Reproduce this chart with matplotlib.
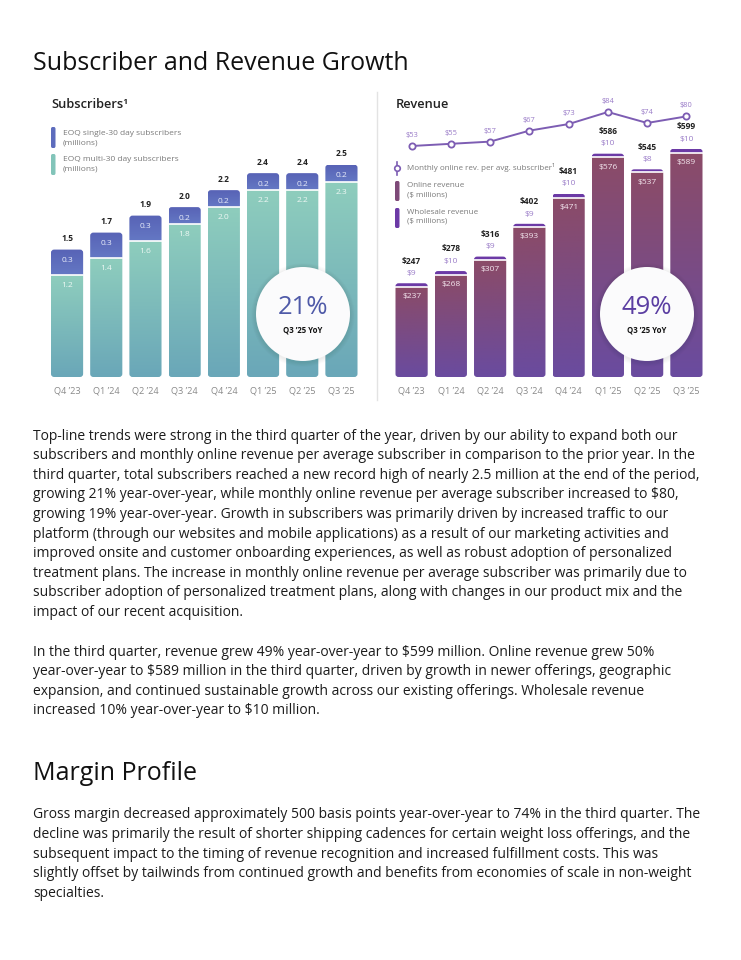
import numpy as np
import matplotlib
matplotlib.use('Agg')
import matplotlib.pyplot as plt
from matplotlib.colors import LinearSegmentedColormap
from matplotlib.patches import FancyBboxPatch, Circle

W, H = 741, 960

quarters = ["Q4 \u201923", "Q1 \u201924", "Q2 \u201924", "Q3 \u201924",
            "Q4 \u201924", "Q1 \u201925", "Q2 \u201925", "Q3 \u201925"]

# subscribers (millions)
single_subs = [0.3, 0.3, 0.3, 0.2, 0.2, 0.2, 0.2, 0.2]
multi_subs = [1.2, 1.4, 1.6, 1.8, 2.0, 2.2, 2.2, 2.3]
total_subs = [1.5, 1.7, 1.9, 2.0, 2.2, 2.4, 2.4, 2.5]

# revenue ($ millions)
online_rev = [237, 268, 307, 393, 471, 576, 537, 589]
wholesale_rev = [9, 10, 9, 9, 10, 10, 8, 10]
total_rev = [247, 278, 316, 402, 481, 586, 545, 599]
arpu = [53, 55, 57, 67, 73, 84, 74, 80]

para1 = [
    "Top-line trends were strong in the third quarter of the year, driven by our ability to expand both our",
    "subscribers and monthly online revenue per average subscriber in comparison to the prior year. In the",
    "third quarter, total subscribers reached a new record high of nearly 2.5 million at the end of the period,",
    "growing 21% year-over-year, while monthly online revenue per average subscriber increased to $80,",
    "growing 19% year-over-year. Growth in subscribers was primarily driven by increased traffic to our",
    "platform (through our websites and mobile applications) as a result of our marketing activities and",
    "improved onsite and customer onboarding experiences, as well as robust adoption of personalized",
    "treatment plans. The increase in monthly online revenue per average subscriber was primarily due to",
    "subscriber adoption of personalized treatment plans, along with changes in our product mix and the",
    "impact of our recent acquisition.",
]
para2 = [
    "In the third quarter, revenue grew 49% year-over-year to $599 million. Online revenue grew 50%",
    "year-over-year to $589 million in the third quarter, driven by growth in newer offerings, geographic",
    "expansion, and continued sustainable growth across our existing offerings. Wholesale revenue",
    "increased 10% year-over-year to $10 million.",
]
para3 = [
    "Gross margin decreased approximately 500 basis points year-over-year to 74% in the third quarter. The",
    "decline was primarily the result of shorter shipping cadences for certain weight loss offerings, and the",
    "subsequent impact to the timing of revenue recognition and increased fulfillment costs. This was",
    "slightly offset by tailwinds from continued growth and benefits from economies of scale in non-weight",
    "specialties.",
]

plt.rcParams['font.family'] = ['Open Sans', 'DejaVu Sans']

fig = plt.figure(figsize=(W / 100, H / 100), dpi=100)
fig.patch.set_facecolor('white')


def px(x, y):
    return x / W, 1 - y / H


def px_axes(l, t, r, b):
    return fig.add_axes([l / W, 1 - b / H, (r - l) / W, (b - t) / H])


def grad_fill(ax, rect, clip, c_top, c_bot):
    x, y = rect.get_x(), rect.get_y()
    w, h = rect.get_width(), rect.get_height()
    cmap = LinearSegmentedColormap.from_list('g', [c_bot, c_top])
    im = ax.imshow(np.linspace(0, 1, 64).reshape(-1, 1), cmap=cmap, origin='lower',
                   extent=[x, x + w, y, y + h], aspect='auto', zorder=2,
                   interpolation='bilinear')
    im.set_clip_path(clip)


def rounded(ax, x, w, top, rx, ry):
    p = FancyBboxPatch((x, 0), w, top, boxstyle="round,pad=0,rounding_size=%f" % rx,
                       mutation_aspect=ry / rx, facecolor='none', edgecolor='none',
                       transform=ax.transData)
    ax.add_patch(p)
    return p


def style_axes(ax):
    for s in ax.spines.values():
        s.set_visible(False)
    ax.set_yticks([])
    ax.set_xticks(range(len(quarters)))
    ax.set_xticklabels(quarters, fontsize=6.6, color='#8a8a8a')
    ax.tick_params(axis='x', length=0, pad=7)
    ax.set_facecolor('none')


x = np.arange(len(quarters))
bw = 0.82

# ---------------- subscribers ----------------
ax1 = px_axes(45.5, 95, 363, 377)
b_multi = ax1.bar(x, multi_subs, bw, color='none', edgecolor='none')
b_single = ax1.bar(x, single_subs, bw, bottom=multi_subs, color='none', edgecolor='none')
ax1.set_xlim(-0.55, 7.55)
ax1.set_ylim(0, 3.32)
for i in range(len(x)):
    clip = rounded(ax1, b_multi[i].get_x(), bw, multi_subs[i] + single_subs[i], 0.08, 0.036)
    grad_fill(ax1, b_multi[i], clip, '#8ecdbd', '#6aa7b8')
    grad_fill(ax1, b_single[i], clip, '#5863b6', '#6478c4')
    ax1.plot([b_multi[i].get_x(), b_multi[i].get_x() + bw], [multi_subs[i]] * 2,
             color='white', lw=1.2, zorder=3)
    ax1.annotate("%.1f" % total_subs[i], (x[i], multi_subs[i] + single_subs[i]),
                 xytext=(0, 8), textcoords='offset points', ha='center', va='center',
                 fontsize=6, fontweight='bold', color='#222222')
    ax1.annotate("%.1f" % single_subs[i], (x[i], multi_subs[i] + single_subs[i]),
                 xytext=(0, -8), textcoords='offset points', ha='center', va='center',
                 fontsize=6, color='#e8ecfa', zorder=4)
    ax1.annotate("%.1f" % multi_subs[i], (x[i], multi_subs[i]),
                 xytext=(0, -7.5), textcoords='offset points', ha='center', va='center',
                 fontsize=6, color='#eef8f4', zorder=4)
style_axes(ax1)

# ---------------- revenue ----------------
ax2 = px_axes(390, 95, 708, 377)
b_online = ax2.bar(x, online_rev, bw, color='none', edgecolor='none')
b_whole = ax2.bar(x, wholesale_rev, bw, bottom=online_rev, color='none', edgecolor='none')
ax2.set_xlim(-0.55, 7.55)
ax2.set_ylim(0, 740)
for i in range(len(x)):
    top = online_rev[i] + wholesale_rev[i]
    clip = rounded(ax2, b_online[i].get_x(), bw, top, 0.08, 7.5)
    grad_fill(ax2, b_online[i], clip, '#8b4b68', '#6a4b9f')
    grad_fill(ax2, b_whole[i], clip, '#6c3aa6', '#6c3aa6')
    ax2.plot([b_online[i].get_x(), b_online[i].get_x() + bw], [online_rev[i]] * 2,
             color='white', lw=1.2, zorder=3)
    ax2.annotate("$%d" % total_rev[i], (x[i], top), xytext=(0, 16),
                 textcoords='offset points', ha='center', va='center',
                 fontsize=6, fontweight='bold', color='#222222')
    ax2.annotate("$%d" % wholesale_rev[i], (x[i], top), xytext=(0, 7),
                 textcoords='offset points', ha='center', va='center',
                 fontsize=6, color='#9a7cc8')
    ax2.annotate("$%d" % online_rev[i], (x[i], online_rev[i]), xytext=(0, -7),
                 textcoords='offset points', ha='center', va='center',
                 fontsize=6, color='#f3e6ee', zorder=4)
style_axes(ax2)

ax3 = ax2.twinx()
ax3.set_ylim(-157.6, 99.5)
ax3.plot(x, arpu, color='#7d5db3', lw=1.4, marker='o', ms=4.5, mfc='white',
         mec='#7d5db3', mew=1.3, zorder=5)
for i in range(len(x)):
    ax3.annotate("$%d" % arpu[i], (x[i], arpu[i]), xytext=(0, 7.5),
                 textcoords='offset points', ha='center', va='center',
                 fontsize=5.4, color='#9a7cc8')
ax3.axis('off')

# divider between the two charts
fig.add_artist(plt.Line2D([377 / W, 377 / W], [1 - 92 / H, 1 - 400 / H],
                          color='#e3e3e3', lw=1))

# panel headers
fig.text(*px(51, 105), "Subscribers\u00b9", fontsize=9.3, fontweight='semibold',
         color='#222222', va='center')
fig.text(*px(396, 105), "Revenue", fontsize=9.3, fontweight='semibold',
         color='#222222', va='center')

# legends
def swatch(x0, y0, x1, y1, color):
    fig.add_artist(FancyBboxPatch(px(x0, y1), (x1 - x0) / W, (y1 - y0) / H,
                                  boxstyle="round,pad=0,rounding_size=0.002",
                                  transform=fig.transFigure, facecolor=color,
                                  edgecolor='none'))

swatch(51, 127, 55.5, 148, '#5d6cbd')
swatch(51, 154, 55.5, 175, '#82c4b9')
fig.text(*px(63, 138), "EOQ single-30 day subscribers\n(millions)", fontsize=6.0,
         color='#7a7a7a', va='center', linespacing=1.4)
fig.text(*px(63, 164), "EOQ multi-30 day subscribers\n(millions)", fontsize=6.0,
         color='#7a7a7a', va='center', linespacing=1.4)

fig.add_artist(plt.Line2D([397 / W, 397 / W], [1 - 162 / H, 1 - 175 / H],
                          color='#7d5db3', lw=1.2))
fig.add_artist(plt.Line2D([397 / W], [1 - 168 / H], marker='o', ms=4, mfc='white',
                          mec='#7d5db3', mew=1.2))
fig.text(*px(407, 168), "Monthly online rev. per avg. subscriber\u00b9", fontsize=5.8,
         color='#7a7a7a', va='center')
swatch(395, 181, 399.5, 201, '#7e4a78')
swatch(395, 208, 399.5, 228, '#6c3aa6')
fig.text(*px(407, 190), "Online revenue\n($ millions)", fontsize=5.8,
         color='#7a7a7a', va='center', linespacing=1.4)
fig.text(*px(407, 217), "Wholesale revenue\n($ millions)", fontsize=5.8,
         color='#7a7a7a', va='center', linespacing=1.4)

# YoY badges
def badge(cx, cy, r, big, color):
    for k in range(6, 0, -1):
        fig.add_artist(Circle((cx / 100, (H - cy - 1) / 100), (r + k * 0.8) / 100,
                              transform=fig.dpi_scale_trans, facecolor='#000000',
                              alpha=0.012, edgecolor='none', zorder=6))
    fig.add_artist(Circle((cx / 100, (H - cy) / 100), r / 100,
                          transform=fig.dpi_scale_trans, facecolor='#fbfbfc',
                          edgecolor='none', zorder=7))
    fig.text(*px(cx, cy - 7), big, fontsize=18.5, color=color, ha='center',
             va='center', zorder=8)
    fig.text(*px(cx, cy + 16), "Q3 \u201925 YoY", fontsize=5.6, fontweight='bold',
             color='#111111', ha='center', va='center', zorder=8)

badge(303, 314, 47, "21%", '#4f5aa8')
badge(647, 314, 47, "49%", '#5b3ea2')

# headings and body text
fig.text(*px(33, 63), "Subscriber and Revenue Growth", fontsize=18, color='#111111',
         va='center', fontweight='medium')
fig.text(*px(33, 774), "Margin Profile", fontsize=18, color='#111111',
         va='center', fontweight='medium')

def paragraph(lines, y0):
    for k, line in enumerate(lines):
        fig.text(*px(33, y0 + k * 19.6), line, fontsize=10, color='#1c1c1c',
                 va='center')

paragraph(para1, 436)
paragraph(para2, 652)
paragraph(para3, 815)

fig.savefig('out.png', dpi=100, facecolor='white')
